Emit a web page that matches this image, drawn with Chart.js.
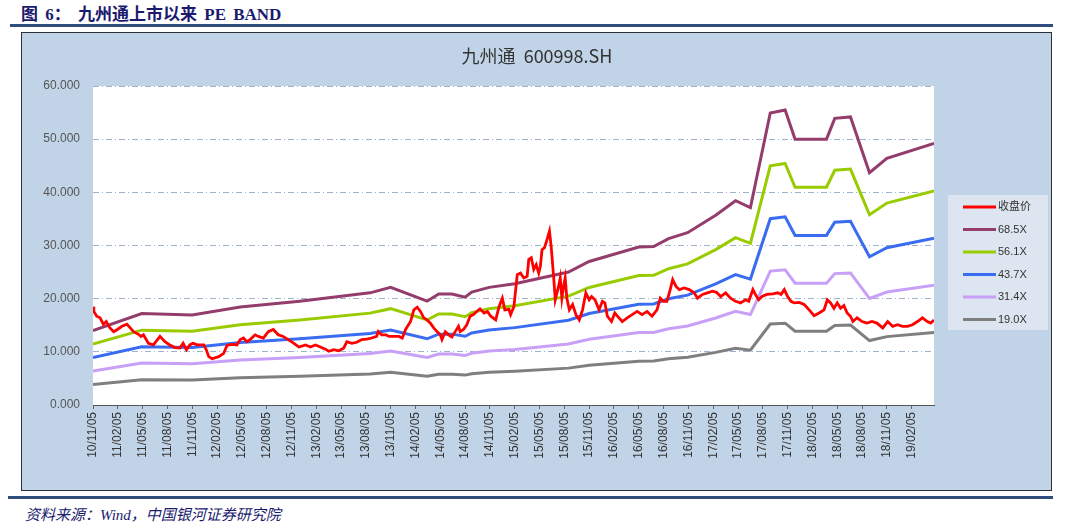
<!DOCTYPE html>
<html>
<head>
<meta charset="utf-8">
<script src="https://cdn.jsdelivr.net/npm/chart.js@4/dist/chart.umd.min.js"></script>
<style>
  body { margin: 0; width: 1078px; height: 524px; background: #fff; position: relative; overflow: hidden; }
  #hdr { position: absolute; left: 21px; top: 0px; line-height: 20px; font: bold 17px 'Liberation Serif', 'Noto Sans CJK SC'; color: #1b1b6e; word-spacing: 3px; }
  .rule { position: absolute; height: 3px; background: #2f4e7e; }
  #frame { position: absolute; left: 21px; top: 32px; width: 1029px; height: 457px; border: 1px solid #2a2f3a; background: #c1d4e7; }
  #src { position: absolute; left: 25px; top: 503px; line-height: 20px; font: italic 15px 'Liberation Serif', 'Noto Sans CJK SC'; color: #1b1b6e; }
</style>
</head>
<body>
<div id="hdr">图 6： 九州通上市以来 PE BAND</div>
<div class="rule" style="left:10px;top:24px;width:1043px"></div>
<div id="frame"><canvas id="myChart" width="1029" height="457"></canvas></div>
<div class="rule" style="left:8px;top:496px;width:1045px"></div>
<div id="src">资料来源：Wind，中国银河证券研究院</div>
<script>
// x positions are months counted from 2010/11/05

var tickLabels = ['10/11/05','11/02/05','11/05/05','11/08/05','11/11/05','12/02/05','12/05/05','12/08/05',
  '12/11/05','13/02/05','13/05/05','13/08/05','13/11/05','14/02/05','14/05/05','14/08/05','14/11/05',
  '15/02/05','15/05/05','15/08/05','15/11/05','16/02/05','16/05/05','16/08/05','16/11/05','17/02/05',
  '17/05/05','17/08/05','17/11/05','18/02/05','18/05/05','18/08/05','18/11/05','19/02/05'];

// 收盘价
var closeMonth = [0,0.1,0.45,0.85,1.25,1.6,2,2.5,2.95,3.5,4.1,4.5,4.9,5.5,5.8,6.1,6.7,7.3,8.1,8.7,9.3,9.9,
  10.5,10.9,11.3,11.7,12.1,12.6,13.4,13.7,14,14.4,15.2,15.8,16.2,16.8,17.4,17.8,18.2,18.6,19,19.6,20,20.6,
  21.2,21.8,22.4,23,23.6,24.3,24.9,25.7,26.3,26.9,27.5,28.1,28.5,29.1,29.7,30.3,30.7,31.3,31.9,32.5,33.1,
  33.7,34.3,34.5,34.9,35.4,35.8,36.4,37,37.4,37.8,38.4,38.8,39.2,39.6,40,40.4,40.8,41.2,41.6,42,42.2,42.6,
  43,43.4,43.8,44.2,44.4,44.8,45.2,45.6,46,46.4,46.8,47.3,47.7,48.1,48.7,49.1,49.5,49.8,50.3,50.5,50.9,
  51.3,51.7,52.1,52.5,52.7,53,53.3,53.6,53.9,54.1,54.3,54.6,54.9,55.2,55.4,55.7,55.9,56.3,56.5,56.7,56.9,
  57.1,57.3,57.6,58,58.4,58.8,59.2,59.6,60,60.3,60.7,61.2,61.6,61.9,62.2,62.7,63.1,63.6,64,64.6,65.2,65.8,
  66.4,67,67.6,68.2,68.6,69,69.4,69.8,70.1,70.5,70.9,71.5,72.1,72.7,73.1,73.7,74.3,74.9,75.4,75.9,76.5,
  77.1,77.7,78.3,78.9,79.3,79.8,80.1,80.5,80.9,81.5,82.2,82.8,83.2,83.6,84,84.4,84.8,85.4,86,86.6,87.2,
  87.8,88.4,88.8,89.2,89.6,90,90.4,90.8,91.2,91.6,91.9,92.4,93,93.6,94.2,94.8,95.5,96.1,96.7,97.3,97.9,
  98.5,99.1,99.7,100.3,100.9,101.3,101.7];
var closePrice = [18.5,17.6,16.7,16.4,15.2,15.7,14.6,13.8,14.2,14.8,15.2,14.5,13.8,13.3,12.9,13.2,11.6,11.3,
  12.9,11.9,11.3,10.8,10.7,11.6,10.4,11.3,11.6,11.3,11.3,10.4,9.1,8.7,9.1,9.7,11.2,11.4,11.3,12.3,12.6,11.9,
  12.3,13.2,12.9,12.6,13.8,14.2,13.2,12.9,12.3,11.6,10.9,11.3,10.9,11.3,10.9,10.5,10.1,10.4,10.2,10.7,11.9,
  11.6,11.8,12.3,12.4,12.6,12.9,13.8,13.2,13.2,12.9,12.9,12.9,12.6,14.2,15.7,17.9,18.4,17.6,16.4,16.0,15.4,
  14.5,13.8,13.2,12.3,13.8,13.2,12.8,13.8,14.8,13.8,14.2,15.1,16.7,17.0,17.6,18.1,17.3,17.6,16.7,16.0,18.5,
  20.1,17.9,18.0,17.0,18.5,24.5,24.8,23.9,24.2,27.4,27.7,25.5,26.4,24.8,26.1,29.2,29.6,31.1,32.7,29.9,24.2,
  19.8,22.3,23.9,20.1,22.3,23.9,20.1,17.9,18.9,17.0,16.0,17.9,21.1,19.8,20.4,19.8,17.9,19.5,19.2,16.7,15.7,
  17.3,16.4,15.7,16.4,17.0,17.6,17.0,17.6,16.7,17.9,20.1,19.5,19.5,21.7,23.6,22.3,21.7,22.0,21.7,21.1,20.1,
  20.8,21.1,21.4,21.2,20.4,21.1,20.1,19.5,19.2,19.8,19.5,21.7,20.8,19.8,20.4,20.8,20.9,21.1,20.8,21.7,20.4,
  19.5,19.2,19.3,18.9,17.9,16.8,17.3,17.9,19.8,19.2,18.2,19.2,18.2,18.7,17.3,16.7,15.7,16.4,15.7,15.4,15.7,
  15.4,14.5,15.7,14.8,15.1,14.8,14.8,15.1,15.7,16.4,15.7,15.4,16.0];

// EPS behind the bands (band = EPS x PE multiple)
var epsMonth = [0,5.9,12,17.8,25,33.5,36,40.4,41.8,43.4,45,45.8,47.9,51,57.5,60,66,67.8,69.6,71.9,75.3,
  77.7,79.5,81.9,83.7,84.9,88.7,89.7,91.6,93.9,96,101.7];
var eps = [0.204,0.251,0.247,0.269,0.285,0.308,0.323,0.285,0.305,0.305,0.296,0.310,0.323,0.333,0.365,0.394,
  0.434,0.435,0.457,0.473,0.521,0.561,0.542,0.802,0.810,0.730,0.730,0.787,0.791,0.638,0.677,0.718];

var peMultiple = [68.5, 56.1, 43.7, 31.4, 19.0];
var bandLabels = ['68.5X', '56.1X', '43.7X', '31.4X', '19.0X'];
var bandColors = ['#943d6c', '#99cc00', '#3a6cf2', '#c9a0f7', '#7f7f7f'];

var datasets = [{
  label: '收盘价',
  data: closeMonth.map(function(m, i) { return { x: m, y: closePrice[i] }; }),
  borderColor: '#ff0000',
  borderWidth: 2.8
}];
peMultiple.forEach(function(pe, k) {
  datasets.push({
    label: bandLabels[k],
    data: epsMonth.map(function(m, i) { return { x: m, y: eps[i] * pe }; }),
    borderColor: bandColors[k],
    borderWidth: 3
  });
});

var decor = {
  id: 'decor',
  beforeDraw: function(c) {
    var a = c.chartArea, ctx = c.ctx;
    ctx.save();
    ctx.fillStyle = '#ffffff';
    ctx.fillRect(a.left, a.top, a.right - a.left, a.bottom - a.top);
    ctx.restore();
  },
  afterDraw: function(c) {
    var ctx = c.ctx;
    ctx.save();
    // title
    ctx.fillStyle = '#333';
    ctx.font = "18px 'Noto Sans CJK SC'";
    ctx.textAlign = 'center';
    ctx.textBaseline = 'middle';
    ctx.fillText('九州通  600998.SH', 515, 23);
    // legend
    ctx.fillStyle = '#dde6f0';
    ctx.fillRect(926, 162, 100, 135);
    ctx.textAlign = 'left';
    ctx.font = "11px 'Liberation Sans', 'Noto Sans CJK SC'";
    c.data.datasets.forEach(function(ds, i) {
      var y = 174 + i * 22.5;
      ctx.strokeStyle = ds.borderColor;
      ctx.lineWidth = 3;
      ctx.beginPath();
      ctx.moveTo(941, y);
      ctx.lineTo(974, y);
      ctx.stroke();
      ctx.fillStyle = '#333';
      ctx.fillText(ds.label, 976, y);
    });
    ctx.restore();
  }
};

var chart = document.getElementById('myChart');
var myChart = new Chart(chart, {
  type: 'line',
  data: { datasets: datasets },
  plugins: [decor],
  options: {
    responsive: false,
    animation: false,
    layout: { padding: { top: 53, right: 117, left: 0, bottom: 0 } },
    elements: { point: { radius: 0 }, line: { tension: 0 } },
    plugins: { legend: { display: false }, title: { display: false }, tooltip: { enabled: false } },
    scales: {
      x: {
        type: 'linear',
        min: 0,
        max: 101.7,
        afterBuildTicks: function(s) {
          s.ticks = tickLabels.map(function(t, i) { return { value: i * 3 }; });
        },
        afterFit: function(s) { s.height = 85; },
        ticks: {
          autoSkip: false,
          minRotation: 90,
          maxRotation: 90,
          padding: 3,
          color: '#333',
          font: { family: 'Liberation Sans', size: 12 },
          callback: function(v, i) { return tickLabels[i]; }
        },
        grid: { drawOnChartArea: false, drawTicks: true, tickLength: 4, color: '#666' },
        border: { color: '#555', width: 1 }
      },
      y: {
        min: 0,
        max: 60,
        afterFit: function(s) { s.width = 71; },
        ticks: {
          stepSize: 10,
          padding: 13,
          color: '#555',
          font: { family: 'Liberation Sans', size: 12 },
          callback: function(v) { return v.toFixed(3); }
        },
        grid: { drawTicks: false, color: '#9db3cc', lineWidth: 1 },
        border: { display: false, dash: [6, 3, 1, 3] }
      }
    }
  }
});
</script>
</body>
</html>
